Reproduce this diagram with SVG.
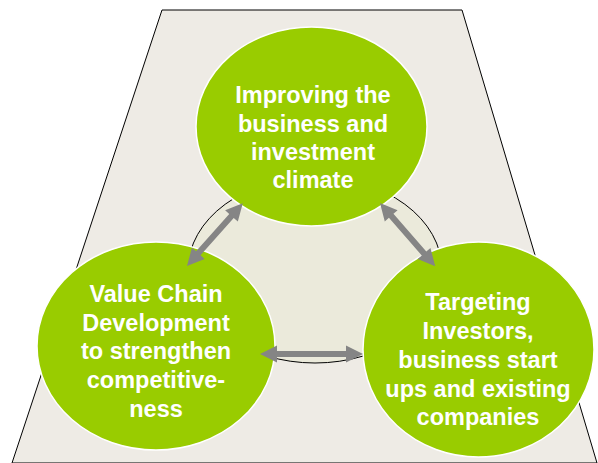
<svg xmlns="http://www.w3.org/2000/svg" width="598" height="463" viewBox="0 0 598 463">
<style>
.node{fill:#99CC00;stroke:#FFFFFF;stroke-width:1.5}
.lbl{font-family:"Liberation Sans",Arial,sans-serif;font-weight:bold;font-size:23.5px;fill:#FFFFFF;text-anchor:middle}
.arr{fill:#858585}
</style>
<defs>
<path id="a84" d="M0,0 L17,-8.5 L17,-3 L67,-3 L67,-8.5 L84,0 L67,8.5 L67,3 L17,3 L17,8.5 Z"/>
<path id="a103" d="M0,0 L17,-8.5 L17,-3 L86,-3 L86,-8.5 L103,0 L86,8.5 L86,3 L17,3 L17,8.5 Z"/>
</defs>
<rect width="598" height="463" fill="#FFFFFF"/>
<polygon points="162,10 462,10 597,463 12,463" fill="#EEEBE5" stroke="#000000" stroke-width="1"/>
<ellipse cx="315" cy="270" rx="127" ry="93" fill="#EBEADB" stroke="#000000" stroke-width="1"/>
<g id="node-top">
<ellipse class="node" cx="311.5" cy="126.5" rx="115.5" ry="99.5"/>
<text class="lbl" x="313" y="103">Improving the</text>
<text class="lbl" x="313" y="132">business and</text>
<text class="lbl" x="313" y="160">investment</text>
<text class="lbl" x="313" y="188">climate</text>
</g>
<g id="node-left">
<ellipse class="node" cx="156" cy="346" rx="119" ry="104"/>
<text class="lbl" x="156" y="302">Value Chain</text>
<text class="lbl" x="156" y="331">Development</text>
<text class="lbl" x="156" y="359">to strengthen</text>
<text class="lbl" x="156" y="388">competitive-</text>
<text class="lbl" x="156" y="417">ness</text>
</g>
<g id="node-right">
<ellipse class="node" cx="478.5" cy="349.5" rx="115.5" ry="107.5"/>
<text class="lbl" x="478" y="310">Targeting</text>
<text class="lbl" x="478" y="339">Investors,</text>
<text class="lbl" x="478" y="368">business start</text>
<text class="lbl" x="478" y="397">ups and existing</text>
<text class="lbl" x="478" y="425">companies</text>
</g>
<g id="connectors" class="arr">
<use href="#a84" transform="translate(187,266) rotate(-48.4)"/>
<use href="#a84" transform="translate(380,203) rotate(48.9)"/>
<use href="#a103" transform="translate(260,354)"/>
</g>
</svg>
